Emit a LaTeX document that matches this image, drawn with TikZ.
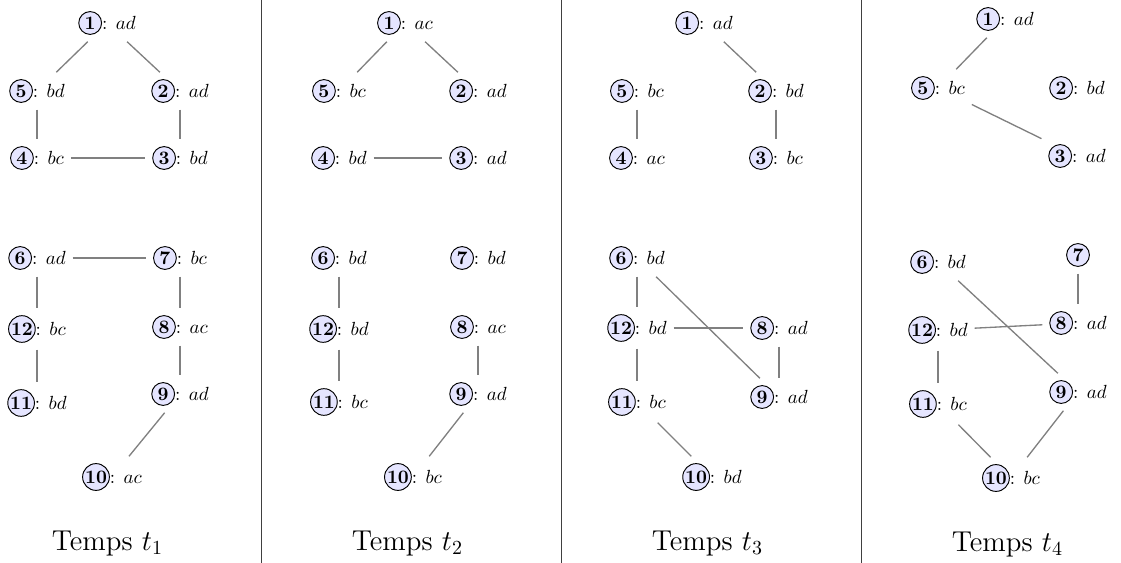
\documentclass[tikz,border=0pt]{standalone}
\tikzset{
  numc/.style={circle,draw=black,line width=0.5pt,fill=blue!10,inner sep=0.3pt,minimum size=12pt,anchor=center,font=\normalsize\bfseries},
  vtx/.style={inner sep=3.4pt,font=\normalsize,anchor=center},
  link/.style={draw=gray,line width=0.7pt},
  divider/.style={draw=black!75,line width=0.5pt},
  captxt/.style={font=\Large,anchor=base,scale=1.05}
}
\newcommand\cnum[1]{\tikz[baseline=(cn.base)]\node[numc](cn){#1};}
\newcommand\V[5]{\node[vtx] (#1) at (#2,#3) {\cnum{#4}#5};}
\begin{document}
\begin{tikzpicture}[x=0.526pt,y=-0.526pt]
\useasboundingbox (0,0) rectangle (1121,563);
% dividers
\coordinate (d1t) at (261,0);   \coordinate (d1b) at (261,563);
\coordinate (d2t) at (561,0);   \coordinate (d2b) at (561,563);
\coordinate (d3t) at (861,0);   \coordinate (d3b) at (861,563);
\draw[divider] (d1t) -- (d1b);
\draw[divider] (d2t) -- (d2b);
\draw[divider] (d3t) -- (d3b);

% ---------- Panel 1 ----------
\V{A1}{107}{23}{1}{: $ad$}
\V{A5}{37}{91}{5}{: $bd$}
\V{A2}{180}{91}{2}{: $ad$}
\V{A4}{37}{158}{4}{: $bc$}
\V{A3}{180}{158}{3}{: $bd$}
\V{A6}{37}{258}{6}{: $ad$}
\V{A7}{180}{258}{7}{: $bc$}
\V{A12}{37}{329}{12}{: $bc$}
\V{A8}{180}{327}{8}{: $ac$}
\V{A11}{37}{403}{11}{: $bd$}
\V{A9}{180}{394}{9}{: $ad$}
\V{A10}{112}{477}{10}{: $ac$}
\draw[link] (A1) -- (A5);
\draw[link] (A1) -- (A2);
\draw[link] (A5) -- (A4);
\draw[link] (A2) -- (A3);
\draw[link] (A4) -- (A3);
\draw[link] (A6) -- (A7);
\draw[link] (A6) -- (A12);
\draw[link] (A12) -- (A11);
\draw[link] (A7) -- (A8);
\draw[link] (A8) -- (A9);
\draw[link] (A9) -- (A10);
\node[captxt] (capA) at (107.5,550) {Temps $t_1$};

% ---------- Panel 2 ----------
\V{B1}{405}{23}{1}{: $ac$}
\V{B5}{339}{91}{5}{: $bc$}
\V{B2}{478}{91}{2}{: $ad$}
\V{B4}{339}{158}{4}{: $bd$}
\V{B3}{478}{158}{3}{: $ad$}
\V{B6}{339}{258}{6}{: $bd$}
\V{B7}{478}{258}{7}{: $bd$}
\V{B12}{339}{329}{12}{: $bd$}
\V{B8}{478}{327}{8}{: $ac$}
\V{B11}{339}{402}{11}{: $bc$}
\V{B9}{478}{394}{9}{: $ad$}
\V{B10}{413}{477}{10}{: $bc$}
\draw[link] (B1) -- (B5);
\draw[link] (B1) -- (B2);
\draw[link] (B4) -- (B3);
\draw[link] (B6) -- (B12);
\draw[link] (B12) -- (B11);
\draw[link] (B8) -- (B9);
\draw[link] (B9) -- (B10);
\node[captxt] (capB) at (407.5,550) {Temps $t_2$};

% ---------- Panel 3 ----------
\V{C1}{704}{23}{1}{: $ad$}
\V{C5}{637}{91}{5}{: $bc$}
\V{C2}{776}{91}{2}{: $bd$}
\V{C4}{637}{158}{4}{: $ac$}
\V{C3}{776}{158}{3}{: $bc$}
\V{C6}{637}{258}{6}{: $bd$}
\V{C12}{637}{328}{12}{: $bd$}
\V{C8}{779}{328}{8}{: $ad$}
\V{C11}{637}{402}{11}{: $bc$}
\V{C9}{779}{397}{9}{: $ad$}
\V{C10}{712}{477}{10}{: $bd$}
\draw[link] (C1) -- (C2);
\draw[link] (C5) -- (C4);
\draw[link] (C2) -- (C3);
\draw[link] (C6) -- (C12);
\draw[link] (C12) -- (C11);
\draw[link] (C12) -- (C8);
\draw[link] (C6) -- (C9);
\draw[link] (C8) -- (C9);
\draw[link] (C11) -- (C10);
\node[captxt] (capC) at (707.5,550) {Temps $t_3$};

% ---------- Panel 4 ----------
\V{D1}{1005}{19}{1}{: $ad$}
\V{D5}{938}{88}{5}{: $bc$}
\V{D2}{1077}{88}{2}{: $bd$}
\V{D3}{1077}{156}{3}{: $ad$}
\V{D6}{938}{262}{6}{: $bd$}
\V{D7}{1078}{255}{7}{}
\V{D12}{938}{330}{12}{: $bd$}
\V{D8}{1078}{323}{8}{: $ad$}
\V{D11}{938}{404}{11}{: $bc$}
\V{D9}{1078}{392}{9}{: $ad$}
\V{D10}{1011}{478}{10}{: $bc$}
\draw[link] (D1) -- (D5);
\draw[link] (D5) -- (D3);
\draw[link] (D7) -- (D8);
\draw[link] (D12) -- (D8);
\draw[link] (D6) -- (D9);
\draw[link] (D12) -- (D11);
\draw[link] (D11) -- (D10);
\draw[link] (D9) -- (D10);
\node[captxt] (capD) at (1007.5,551) {Temps $t_4$};
\end{tikzpicture}
\end{document}
